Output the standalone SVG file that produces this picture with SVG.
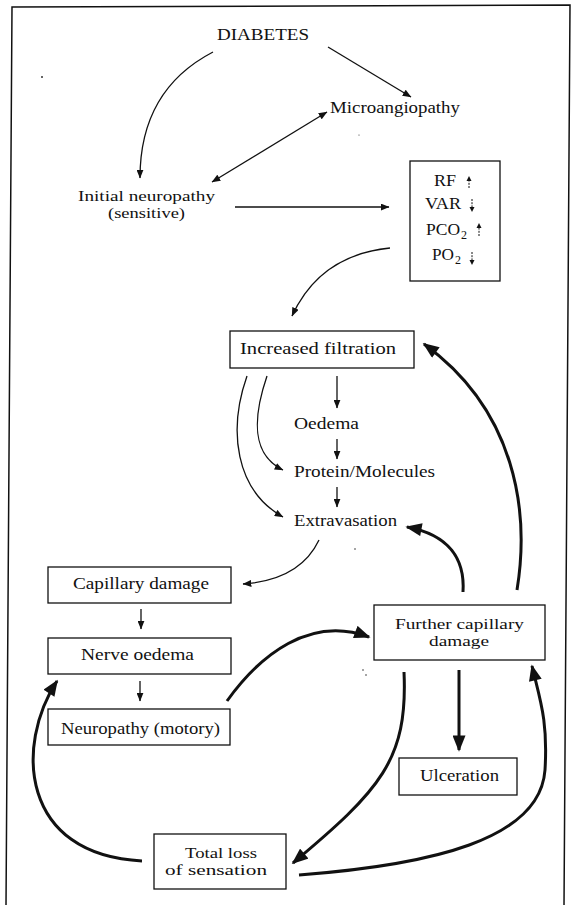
<svg xmlns="http://www.w3.org/2000/svg" width="575" height="905" viewBox="0 0 575 905">
  <style>
    text { font-family: "Liberation Serif", "Times New Roman", serif; font-size: 16px; fill: #111; }
    .two { font-size: 15px; }
    .box { fill: #fff; stroke: #111; stroke-width: 1.3; }
    .thin { fill: none; stroke: #111; stroke-width: 1.3; marker-end: url(#headThin); }
    .thick { fill: none; stroke: #111; stroke-width: 3; marker-end: url(#headThick); }
    .frame { fill: none; stroke: #111; stroke-width: 1.5; }
    .speck { fill: #333; }
  </style>
  <defs>
    <marker id="headThin" viewBox="0 0 10 8" refX="9.5" refY="4" markerWidth="9" markerHeight="7" markerUnits="userSpaceOnUse" orient="auto-start-reverse">
      <path d="M0,0 L10,4 L0,8 z" fill="#111"/>
    </marker>
    <marker id="headThick" viewBox="0 0 10 8" refX="9" refY="4" markerWidth="17" markerHeight="13" markerUnits="userSpaceOnUse" orient="auto">
      <path d="M0,0 L10,4 L0,8 z" fill="#111"/>
    </marker>
  </defs>

  <rect width="575" height="905" fill="#fff"/>

  <!-- outer frame (open at the bottom) -->
  <polyline class="frame" points="6,905 12,7 570,5 564,905"/>

  <!-- specks -->
  <circle class="speck" cx="42" cy="77" r="1"/>
  <circle class="speck" cx="359" cy="135" r="0.6"/>
  <circle class="speck" cx="355" cy="549" r="0.8"/>
  <circle class="speck" cx="363" cy="670" r="0.8"/>
  <circle class="speck" cx="366" cy="675" r="0.8"/>

  <!-- connectors -->
  <g id="connectors">
    <path class="thin" d="M213,52 Q140,90 140,178"/>
    <path class="thin" d="M328,47 L411,97"/>
    <path class="thin" d="M212,182 L327,112" marker-start="url(#headThin)"/>
    <path class="thin" d="M235,207 L389,207"/>
    <path class="thin" d="M390,248 Q320,255 292,316"/>
    <path class="thin" d="M337,376 L337,408"/>
    <path class="thin" d="M337,439 L337,459"/>
    <path class="thin" d="M337,487 L337,507"/>
    <path class="thin" d="M267,376 C252,420 252,455 283,470"/>
    <path class="thin" d="M247,376 C228,430 235,490 283,517"/>
    <path class="thin" d="M319,540 Q300,580 243,584"/>
    <path class="thin" d="M141,609 L141,629"/>
    <path class="thin" d="M140,681 L140,701"/>
    <path class="thick" d="M517,590 C530,510 515,410 424,344"/>
    <path class="thick" d="M463,592 C465,560 450,535 407,527"/>
    <path class="thick" d="M227,701 C260,655 310,615 369,637"/>
    <path class="thick" d="M459,670 L459,750"/>
    <path class="thick" d="M404,672 C408,760 380,790 293,863"/>
    <path class="thick" d="M142,861 C20,855 15,745 57,681"/>
    <path class="thick" d="M299,875 C430,865 540,840 545,770 C548,720 540,700 532,666"/>
  </g>

  <g id="diabetes"><text x="217" y="40" textLength="92" lengthAdjust="spacingAndGlyphs">DIABETES</text></g>
  <g id="microangiopathy"><text x="330" y="113" textLength="130" lengthAdjust="spacingAndGlyphs">Microangiopathy</text></g>
  <g id="initial-neuropathy">
    <text class="two" x="78" y="201" textLength="137" lengthAdjust="spacingAndGlyphs">Initial neuropathy</text>
    <text class="two" x="108" y="218" textLength="77" lengthAdjust="spacingAndGlyphs">(sensitive)</text>
  </g>

  <g id="parameters">
    <rect class="box" x="410" y="161" width="90" height="120"/>
    <text x="434" y="186" textLength="22" lengthAdjust="spacingAndGlyphs">RF</text>
    <text x="425" y="209" textLength="36" lengthAdjust="spacingAndGlyphs">VAR</text>
    <text x="426" y="235" textLength="34" lengthAdjust="spacingAndGlyphs">PCO</text>
    <text x="461" y="239" style="font-size:12px">2</text>
    <text x="432" y="260" textLength="22" lengthAdjust="spacingAndGlyphs">PO</text>
    <text x="455" y="264" style="font-size:12px">2</text>
    <!-- trend arrows -->
    <g fill="#111" stroke="#111" stroke-width="1">
      <path d="M469,188 L469,181" stroke-dasharray="2 1.2"/>
      <path d="M466.5,181 L469,176 L471.5,181 z" stroke="none"/>
      <path d="M472,199 L472,207" stroke-dasharray="2 1.2"/>
      <path d="M469.5,207 L472,212 L474.5,207 z" stroke="none"/>
      <path d="M479,236 L479,228" stroke-dasharray="2 1.2"/>
      <path d="M476.5,228 L479,223 L481.5,228 z" stroke="none"/>
      <path d="M472,252 L472,260" stroke-dasharray="2 1.2"/>
      <path d="M469.5,260 L472,265 L474.5,260 z" stroke="none"/>
    </g>
  </g>

  <g id="increased-filtration">
    <rect class="box" x="230" y="331" width="184" height="37"/>
    <text x="240" y="354" textLength="156" lengthAdjust="spacingAndGlyphs">Increased filtration</text>
  </g>
  <g id="oedema"><text x="294" y="429" textLength="65" lengthAdjust="spacingAndGlyphs">Oedema</text></g>
  <g id="protein-molecules"><text x="294" y="477" textLength="141" lengthAdjust="spacingAndGlyphs">Protein/Molecules</text></g>
  <g id="extravasation"><text x="294" y="526" textLength="103" lengthAdjust="spacingAndGlyphs">Extravasation</text></g>

  <g id="capillary-damage">
    <rect class="box" x="48" y="567" width="183" height="36"/>
    <text x="73" y="589" textLength="136" lengthAdjust="spacingAndGlyphs">Capillary damage</text>
  </g>
  <g id="nerve-oedema">
    <rect class="box" x="48" y="638" width="183" height="36"/>
    <text x="81" y="660" textLength="113" lengthAdjust="spacingAndGlyphs">Nerve oedema</text>
  </g>
  <g id="neuropathy-motory">
    <rect class="box" x="48" y="709" width="182" height="36"/>
    <text x="61" y="734" textLength="159" lengthAdjust="spacingAndGlyphs">Neuropathy (motory)</text>
  </g>
  <g id="further-capillary-damage">
    <rect class="box" x="374" y="605" width="171" height="55"/>
    <text class="two" x="395" y="629" textLength="129" lengthAdjust="spacingAndGlyphs">Further capillary</text>
    <text class="two" x="429" y="646" textLength="60" lengthAdjust="spacingAndGlyphs">damage</text>
  </g>
  <g id="ulceration">
    <rect class="box" x="399" y="758" width="118" height="37"/>
    <text x="420" y="781" textLength="79" lengthAdjust="spacingAndGlyphs">Ulceration</text>
  </g>
  <g id="total-loss">
    <rect class="box" x="154" y="834" width="132" height="55"/>
    <text class="two" x="185" y="858" textLength="72" lengthAdjust="spacingAndGlyphs">Total loss</text>
    <text class="two" x="165" y="875" textLength="102" lengthAdjust="spacingAndGlyphs">of sensation</text>
  </g>
</svg>
